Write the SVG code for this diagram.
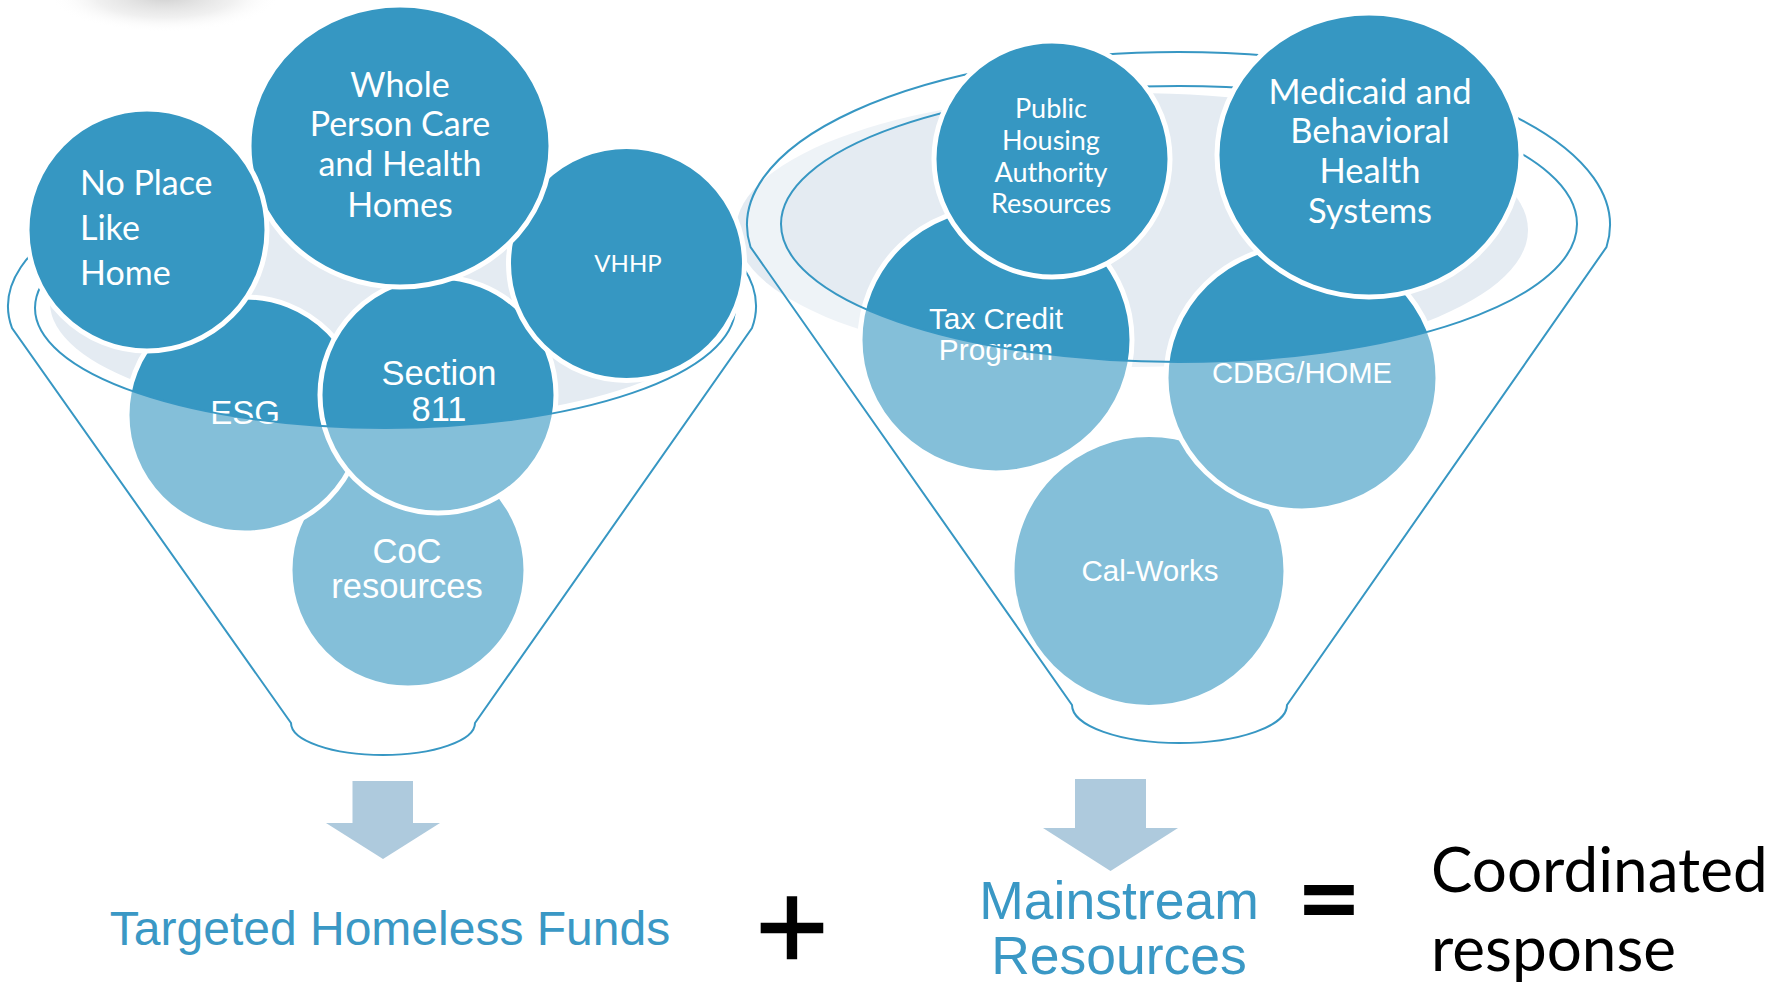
<svg xmlns="http://www.w3.org/2000/svg" width="1783" height="982" viewBox="0 0 1783 982">
<style>
.dk{fill:#3697C2;stroke:#fff;stroke-width:5}
.ln{fill:none;stroke:#3797C3;stroke-width:2}
.gr{fill:#E4EBF2}
.ov{fill:#fff;fill-opacity:0.39;fill-rule:evenodd}
.ca{font-family:Lato,"Open Sans",sans-serif;fill:#fff;text-anchor:middle}
.cl{font-family:Lato,"Open Sans",sans-serif;fill:#fff;text-anchor:start}
.ar{font-family:"Liberation Sans",Arial,sans-serif;fill:#fff;text-anchor:middle}
.bl{font-family:"Liberation Sans",Arial,sans-serif;fill:#3A98C5;text-anchor:middle}
.bk{font-family:Lato,"Open Sans",sans-serif;fill:#000}
.arw{fill:#AECADD}
</style>
<defs>
<radialGradient id="sh" cx="0.5" cy="0.5" r="0.5">
<stop offset="0" stop-color="#cfcfcf"/>
<stop offset="0.6" stop-color="#e6e6e6" stop-opacity="0.6"/>
<stop offset="1" stop-color="#ffffff" stop-opacity="0"/>
</radialGradient>
</defs>
<rect width="1783" height="982" fill="#fff"/>
<ellipse cx="165" cy="-4" rx="115" ry="36" fill="url(#sh)"/>

<!-- backgrounds -->
<g id="funnel-left-bg">
<ellipse class="gr" cx="390" cy="303" rx="340" ry="118"/>
</g>
<g id="funnel-right-bg">
<ellipse class="gr" cx="1132" cy="230" rx="396" ry="137"/>
</g>

<!-- lower circles, left -->
<g id="coc">
<ellipse class="dk" cx="408" cy="570" rx="118" ry="118"/>
<text class="ar" x="407" y="563" font-size="34.5">CoC</text>
<text class="ar" x="407" y="598" font-size="34.5">resources</text>
</g>
<g id="esg">
<ellipse class="dk" cx="245" cy="415" rx="118" ry="118"/>
<text class="ar" x="245" y="424" font-size="33">ESG</text>
</g>
<g id="section811">
<ellipse class="dk" cx="438" cy="395" rx="118" ry="118"/>
<text class="ar" x="439" y="385" font-size="34.5">Section</text>
<text class="ar" x="439" y="421" font-size="34.5">811</text>
</g>

<!-- lower circles, right -->
<g id="calworks">
<ellipse class="dk" cx="1149" cy="571" rx="137" ry="136.5"/>
<text class="ar" x="1150" y="581" font-size="29.5">Cal-Works</text>
</g>
<g id="cdbg">
<ellipse class="dk" cx="1302" cy="378" rx="136" ry="133"/>
<text class="ar" x="1302" y="383" font-size="29.2">CDBG/HOME</text>
</g>
<g id="taxcredit">
<ellipse class="dk" cx="996" cy="340" rx="136" ry="133"/>
<text class="ar" x="996" y="329" font-size="29.8">Tax Credit</text>
<text class="ar" x="996" y="360" font-size="29.8">Program</text>
</g>

<!-- funnel fronts (translucent) and outlines -->
<g id="connectors">
<path class="ov" d="M12,328 A374,150 0 1 1 752,328 L475,723 A92,32 0 0 1 291,723 Z M35,308 A350,120 0 1 0 735,308 A350,120 0 1 0 35,308 Z"/>
<path class="ov" d="M750.5,247 A431.5,173 0 1 1 1606.5,247 L1287,705 A107.5,38 0 0 1 1072,705 Z M781,224 A398,138 0 1 0 1577,224 A398,138 0 1 0 781,224 Z"/>
<path class="ln" d="M12,328 A374,150 0 1 1 752,328 L475,723 A92,32 0 0 1 291,723 Z"/>
<ellipse class="ln" cx="385" cy="308" rx="350" ry="120"/>
<path class="ln" d="M750.5,247 A431.5,173 0 1 1 1606.5,247 L1287,705 A107.5,38 0 0 1 1072,705 Z"/>
<ellipse class="ln" cx="1179" cy="224" rx="398" ry="138"/>
<path class="arw" d="M352.5,781 H413 V823 H440 L383,859 L326,823 H352.5 Z"/>
<path class="arw" d="M1075,779 H1146 V828 H1178 L1110.5,871 L1043,828 H1075 Z"/>
</g>

<!-- upper circles -->
<g id="vhhp">
<ellipse class="dk" cx="626.5" cy="263.5" rx="118" ry="117"/>
<text class="ca" x="628" y="272" font-size="24">VHHP</text>
</g>
<g id="wholeperson">
<ellipse class="dk" cx="400" cy="146" rx="151" ry="141"/>
<text class="ca" x="400" y="97" font-size="34">Whole</text>
<text class="ca" x="400" y="136" font-size="34">Person Care</text>
<text class="ca" x="400" y="176" font-size="34">and Health</text>
<text class="ca" x="400" y="217" font-size="34">Homes</text>
</g>
<g id="noplace">
<ellipse class="dk" cx="147" cy="230" rx="120" ry="121"/>
<text class="cl" x="80" y="195" font-size="34">No Place</text>
<text class="cl" x="80" y="240" font-size="34">Like</text>
<text class="cl" x="80" y="285" font-size="34">Home</text>
</g>
<g id="pha">
<ellipse class="dk" cx="1052" cy="159" rx="118" ry="118"/>
<text class="ca" x="1051" y="118" font-size="27">Public</text>
<text class="ca" x="1051" y="150" font-size="27">Housing</text>
<text class="ca" x="1051" y="182" font-size="27">Authority</text>
<text class="ca" x="1051" y="213" font-size="27">Resources</text>
</g>
<g id="medicaid">
<ellipse class="dk" cx="1369" cy="155" rx="152" ry="142"/>
<text class="ca" x="1370" y="104" font-size="34.5">Medicaid and</text>
<text class="ca" x="1370" y="143" font-size="34.5">Behavioral</text>
<text class="ca" x="1370" y="183" font-size="34.5">Health</text>
<text class="ca" x="1370" y="223" font-size="34.5">Systems</text>
</g>

<!-- equation -->
<g id="targeted">
<text class="bl" x="390" y="945" font-size="48">Targeted Homeless Funds</text>
</g>
<g id="plus">
<text x="792" y="958" font-size="96" font-family="'DejaVu Sans',sans-serif" fill="#000" stroke="#000" stroke-width="2.5" text-anchor="middle">+</text>
</g>
<g id="mainstream">
<text class="bl" x="1119" y="919" font-size="53.5">Mainstream</text>
<text class="bl" x="1119" y="974" font-size="53.5">Resources</text>
</g>
<g id="equals">
<text class="bk" x="1329" y="937" font-size="112" font-weight="bold" text-anchor="middle">=</text>
</g>
<g id="coordinated">
<text class="bk" x="1431" y="892" font-size="62">Coordinated</text>
<text class="bk" x="1431" y="971" font-size="62">response</text>
</g>
</svg>
